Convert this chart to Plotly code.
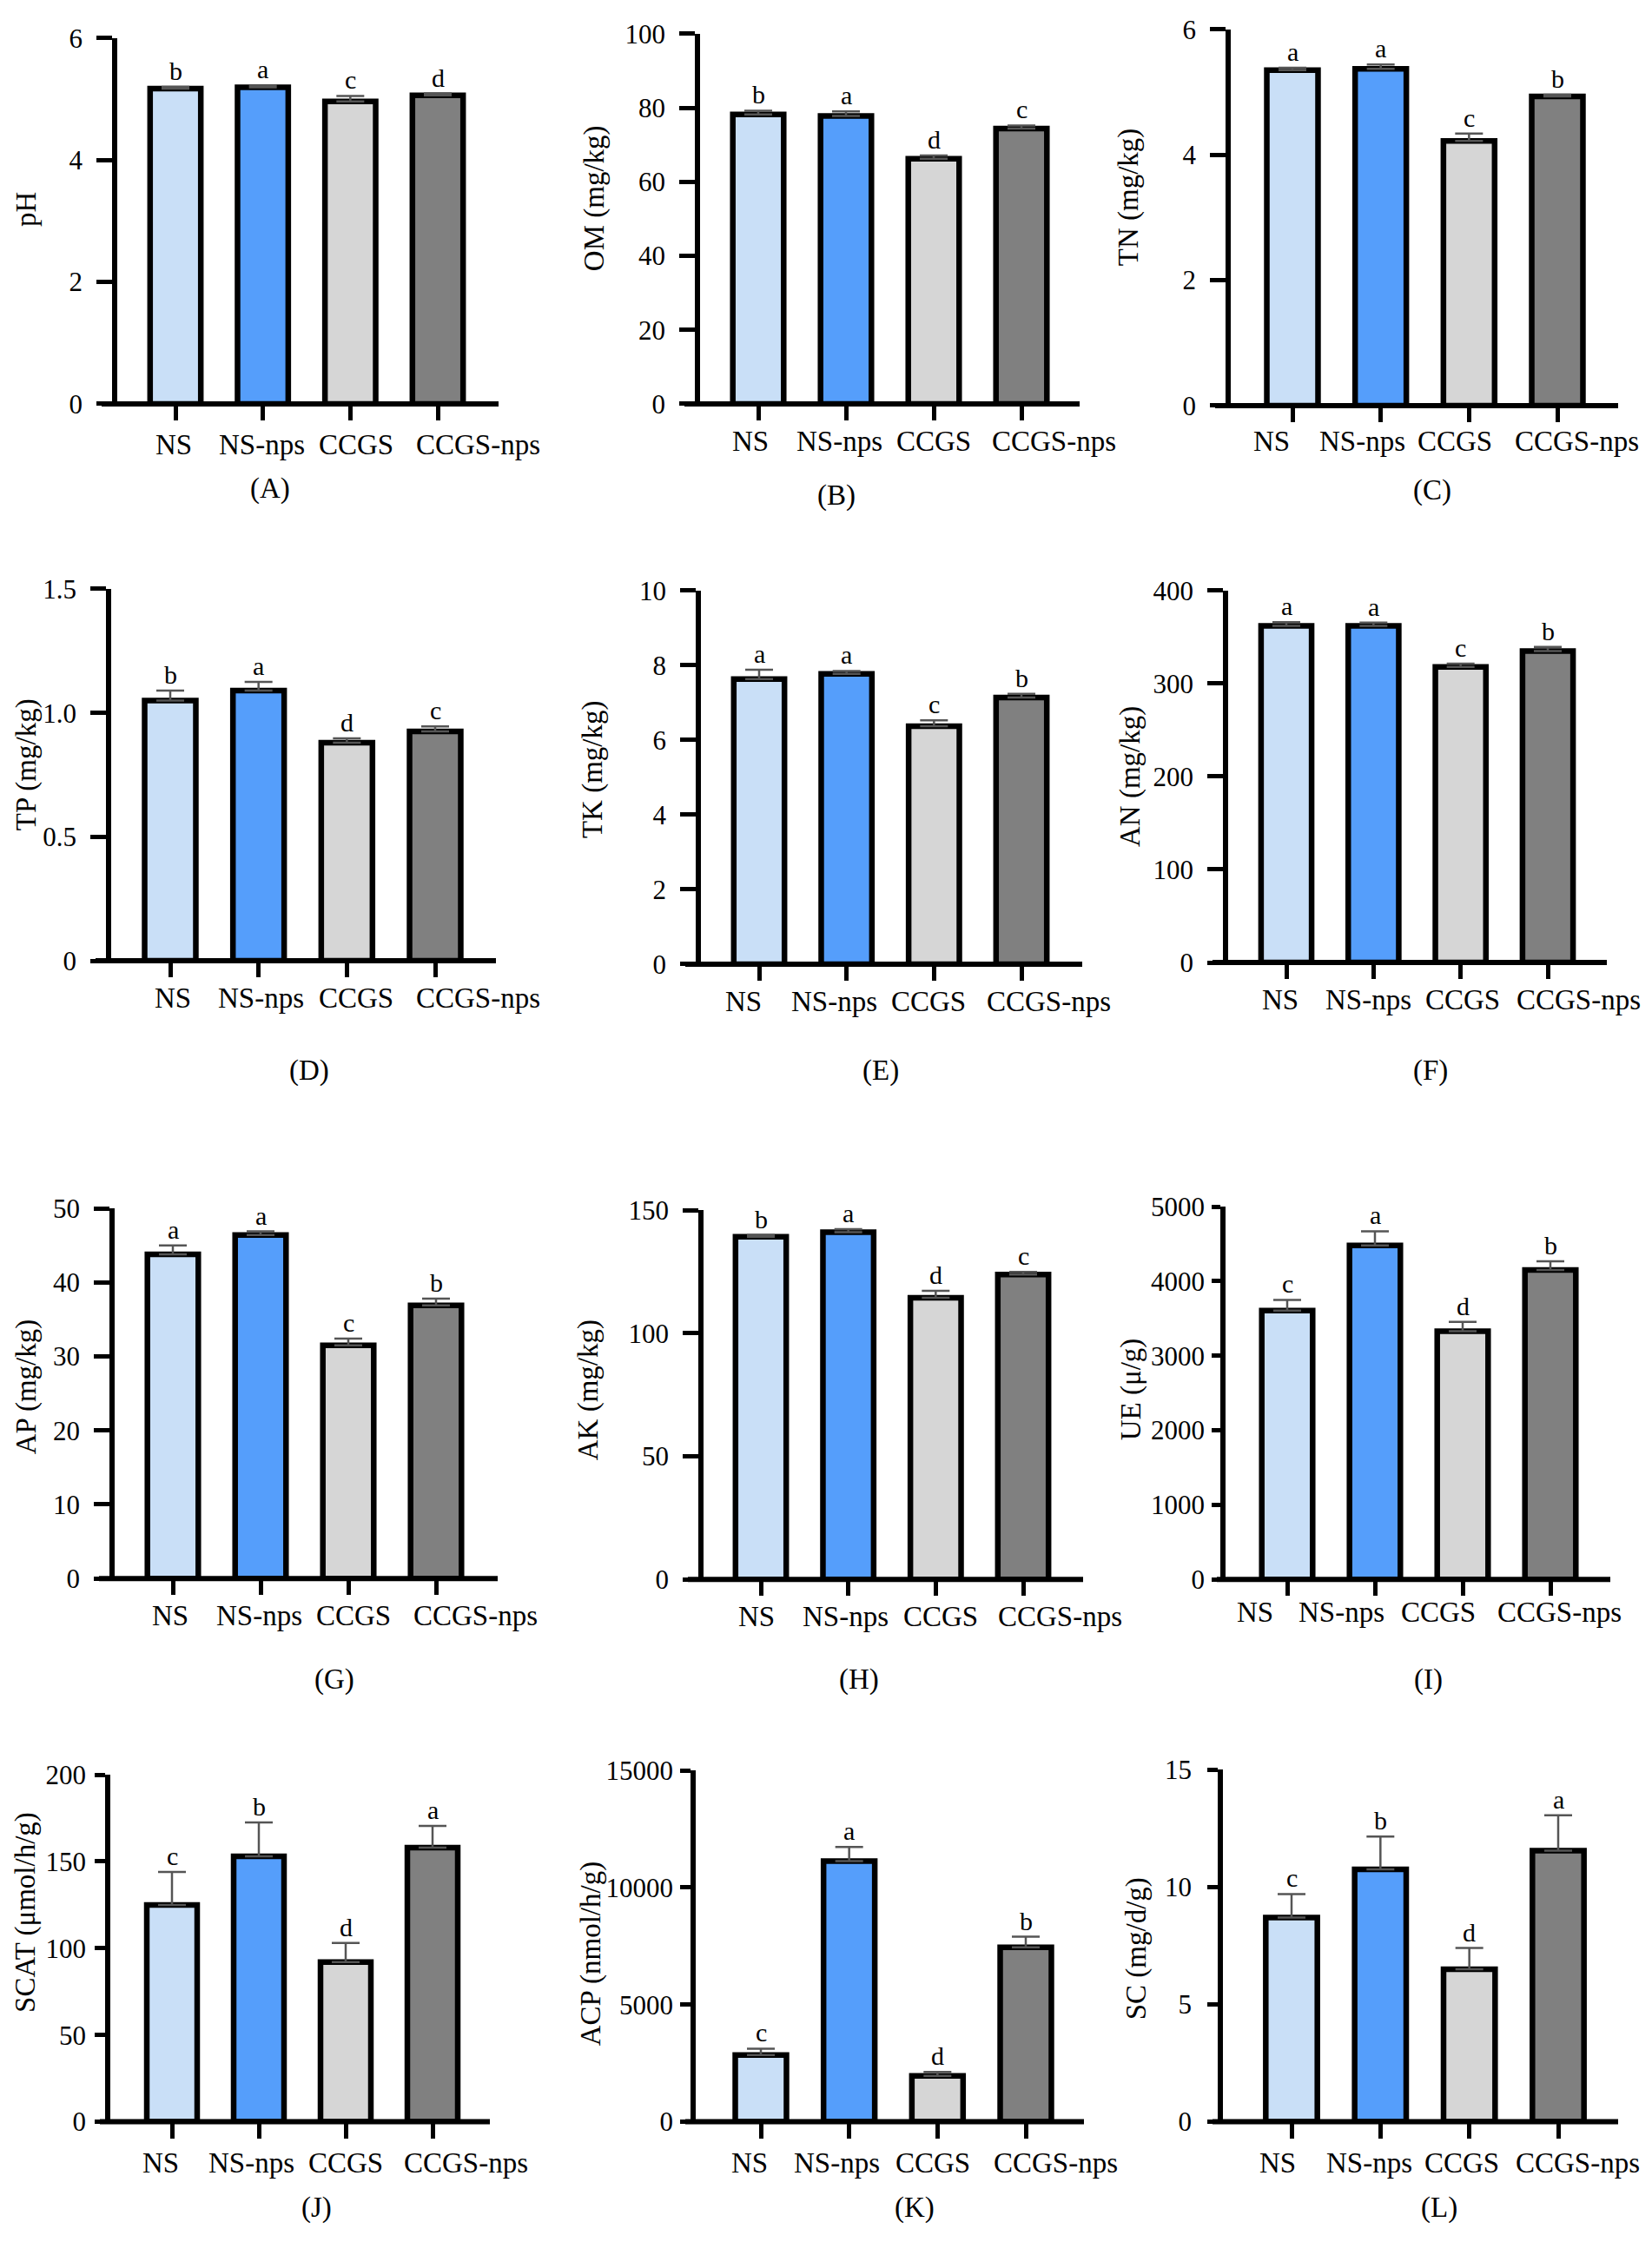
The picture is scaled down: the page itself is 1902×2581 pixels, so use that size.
import plotly.graph_objects as go

# treatment groups and bar colours
groups = ["NS", "NS-nps", "CCGS", "CCGS-nps"]
bar_colors = ["#C9DFF7", "#559EFB", "#D6D6D6", "#808080"]

# values (mean, +SD, significance letter)
ph = [5.17, 5.19, 4.96, 5.06]
ph_err = [0.03, 0.03, 0.09, 0.03]
ph_sig = ["b", "a", "c", "d"]

om = [78.2, 77.8, 66.2, 74.4]
om_err = [1.0, 1.2, 0.9, 0.8]
om_sig = ["b", "a", "d", "c"]

tn = [5.35, 5.37, 4.22, 4.93]
tn_err = [0.04, 0.07, 0.12, 0.03]
tn_sig = ["a", "a", "c", "b"]

tp = [1.05, 1.09, 0.88, 0.925]
tp_err = [0.04, 0.035, 0.017, 0.02]
tp_sig = ["b", "a", "d", "c"]

tk = [7.63, 7.77, 6.37, 7.14]
tk_err = [0.25, 0.08, 0.16, 0.1]
tk_sig = ["a", "a", "c", "b"]

an = [362, 362, 318, 335]
an_err = [4, 3.5, 3.5, 4.5]
an_sig = ["a", "a", "c", "b"]

ap = [43.8, 46.4, 31.5, 36.9]
ap_err = [1.2, 0.5, 0.9, 0.9]
ap_sig = ["a", "a", "c", "b"]

ak = [139.2, 141.0, 114.4, 123.8]
ak_err = [0.7, 1.3, 2.8, 1.1]
ak_sig = ["b", "a", "d", "c"]

ue = [3605, 4480, 3330, 4150]
ue_err = [145, 190, 125, 117]
ue_sig = ["c", "a", "d", "b"]

scat = [125, 153, 92, 158]
scat_err = [19, 19.5, 11, 12.5]
scat_sig = ["c", "b", "d", "a"]

acp = [2850, 11130, 1960, 7450]
acp_err = [270, 600, 170, 450]
acp_sig = ["c", "a", "d", "b"]

sc = [8.7, 10.75, 6.5, 11.55]
sc_err = [1.0, 1.4, 0.9, 1.5]
sc_sig = ["c", "b", "d", "a"]

# y titles, panel letters and tick labels
y_titles = ["pH", "OM (mg/kg)", "TN (mg/kg)", "TP (mg/kg)", "TK (mg/kg)", "AN (mg/kg)",
            "AP (mg/kg)", "AK (mg/kg)", "UE (μ/g)", "SCAT (μmol/h/g)", "ACP (nmol/h/g)", "SC (mg/d/g)"]
panel_tags = ["(A)", "(B)", "(C)", "(D)", "(E)", "(F)", "(G)", "(H)", "(I)", "(J)", "(K)", "(L)"]
y_ticks = [
    [0, 2, 4, 6], [0, 20, 40, 60, 80, 100], [0, 2, 4, 6],
    [0, 0.5, 1.0, 1.5], [0, 2, 4, 6, 8, 10], [0, 100, 200, 300, 400],
    [0, 10, 20, 30, 40, 50], [0, 50, 100, 150], [0, 1000, 2000, 3000, 4000, 5000],
    [0, 50, 100, 150, 200], [0, 5000, 10000, 15000], [0, 5, 10, 15],
]
y_ticktext = [
    ["0", "2", "4", "6"], ["0", "20", "40", "60", "80", "100"], ["0", "2", "4", "6"],
    ["0", "0.5", "1.0", "1.5"], ["0", "2", "4", "6", "8", "10"], ["0", "100", "200", "300", "400"],
    ["0", "10", "20", "30", "40", "50"], ["0", "50", "100", "150"], ["0", "1000", "2000", "3000", "4000", "5000"],
    ["0", "50", "100", "150", "200"], ["0", "5000", "10000", "15000"], ["0", "5", "10", "15"],
]

series = [
    (ph, ph_err, ph_sig), (om, om_err, om_sig), (tn, tn_err, tn_sig),
    (tp, tp_err, tp_sig), (tk, tk_err, tk_sig), (an, an_err, an_sig),
    (ap, ap_err, ap_sig), (ak, ak_err, ak_sig), (ue, ue_err, ue_sig),
    (scat, scat_err, scat_sig), (acp, acp_err, acp_sig), (sc, sc_err, sc_sig),
]

# page size; the html body keeps its default 8px margin, so the figure is drawn inside it
W, H = 1902, 2581
OFF = 8
FW, FH = W - 2 * OFF, H - 2 * OFF


def px(x):
    return (x - OFF) / FW


def py(y):
    return 1 - (y - OFF) / FH


# layout in page pixels: y-axis x, x-axis end, top y, zero y, first / last category centre
geom = [
    (135, 574, 27, 454, 202, 504), (806, 1243, 22, 454, 873, 1176), (1417, 1863, 17, 456, 1488, 1793),
    (128, 571, 670, 1104, 196, 501), (807, 1246, 672, 1108, 874, 1176), (1414, 1850, 672, 1106, 1481, 1782),
    (132, 573, 1393, 1825, 199, 502), (810, 1247, 1395, 1826, 876, 1178), (1411, 1854, 1391, 1826, 1482, 1785),
    (127, 564, 2054, 2459, 198, 498), (801, 1248, 2049, 2459, 876, 1181), (1408, 1863, 2048, 2459, 1487, 1794),
]
# y tick length and label gap per panel
y_tick_len = [18, 18, 18, 18, 18, 18, 18, 18, 10, 12, 12, 12]
y_label_gap = [10, 10, 10, 10, 10, 10, 10, 10, 2, 4, 2, 12]
# horizontal nudge of each category label (px), as placed in the original
label_shift = [
    [-2, -1, 7, 46], [-9, -8, 0, 37], [-24, -21, -16, 22],
    [3, 3, 11, 49], [-18, -14, -6, 31], [-7, -6, 2, 35],
    [-3, -2, 6, 45], [-5, -3, 6, 42], [-37, -39, -28, 10],
    [-13, -9, 0, 38], [-13, -14, -5, 34], [-16, -13, -9, 22],
]
label_drop = [47, 43, 41, 43, 43, 43, 43, 43, 38, 47, 47, 47]
title_pos = [(30, 227), (684, 214), (1299, 213), (30, 875), (682, 881), (1302, 889),
             (30, 1601), (677, 1605), (1302, 1604), (30, 2215), (680, 2263), (1308, 2257)]
tag_pos = [(311, 553), (963, 561), (1649, 555), (356, 1232), (1014, 1232), (1647, 1232),
           (385, 1943), (989, 1943), (1644, 1943), (364, 2559), (1053, 2559), (1657, 2559)]

FONT = "Liberation Serif"
fig = go.Figure()
annotations = []
shapes = []
layout = {}

for i, (vals, errs, sigs) in enumerate(series):
    n = i + 1
    xs = "x" if n == 1 else f"x{n}"
    ys = "y" if n == 1 else f"y{n}"
    xa = "xaxis" if n == 1 else f"xaxis{n}"
    ya = "yaxis" if n == 1 else f"yaxis{n}"
    x0, x1, yt, yz, c0, c3 = geom[i]
    step = (c3 - c0) / 3.0

    fig.add_trace(go.Bar(
        x=groups, y=vals, xaxis=xs, yaxis=ys, width=0.58,
        marker=dict(color=bar_colors, line=dict(color="black", width=6.5)),
        error_y=dict(type="data", symmetric=False, array=errs, arrayminus=[0] * 4,
                     color="#555555", thickness=2.5, width=16),
        showlegend=False,
    ))

    layout[xa] = dict(
        domain=[px(x0), px(x1)], anchor=ys, type="category",
        range=[(x0 - c0) / step, 3 + (x1 - c3) / step],
        showline=False, showgrid=False, zeroline=False, showticklabels=False,
        ticks="outside", ticklen=18, tickwidth=4.5, tickcolor="black",
    )
    layout[ya] = dict(
        domain=[py(yz), py(yt)], anchor=xs,
        range=[0, y_ticks[i][-1]], tickvals=y_ticks[i], ticktext=y_ticktext[i],
        showline=True, linewidth=5.5, linecolor="black", showgrid=False, zeroline=False,
        ticks="outside", ticklen=y_tick_len[i], tickwidth=5, tickcolor="black",
        tickfont=dict(family=FONT, size=31, color="black"), ticklabelstandoff=y_label_gap[i],
    )

    # x-axis line reaching left past the y-axis, like the original
    shapes.append(dict(type="line", xref=f"{xs} domain", yref=f"{ys} domain",
                       x0=-y_tick_len[i] / (x1 - x0), x1=1, y0=0, y1=0,
                       line=dict(color="black", width=6)))

    for j, (g, v, e, s) in enumerate(zip(groups, vals, errs, sigs)):
        annotations.append(dict(x=g, y=v + e, xref=xs, yref=ys, text=s, showarrow=False,
                                yanchor="bottom", yshift=0,
                                font=dict(family=FONT, size=30, color="black")))
        # category label under the axis
        annotations.append(dict(x=g, y=0, xref=xs, yref=f"{ys} domain", text=g, showarrow=False,
                                xanchor="center", yanchor="middle",
                                xshift=label_shift[i][j], yshift=-label_drop[i],
                                font=dict(family=FONT, size=33, color="black")))

    tx, ty = title_pos[i]
    annotations.append(dict(x=px(tx), y=py(ty), xref="paper", yref="paper", text=y_titles[i],
                            textangle=-90, showarrow=False, xanchor="center", yanchor="middle",
                            font=dict(family=FONT, size=33, color="black")))
    gx, gy = tag_pos[i]
    annotations.append(dict(x=px(gx), y=py(gy), xref="paper", yref="paper", text=panel_tags[i],
                            showarrow=False, xanchor="center", yanchor="middle",
                            font=dict(family=FONT, size=33, color="black")))

fig.update_layout(
    width=FW, height=FH, autosize=False,
    margin=dict(l=0, r=0, t=0, b=0),
    paper_bgcolor="white", plot_bgcolor="white",
    annotations=annotations, shapes=shapes,
    **layout,
)

fig.write_html("out.html")
